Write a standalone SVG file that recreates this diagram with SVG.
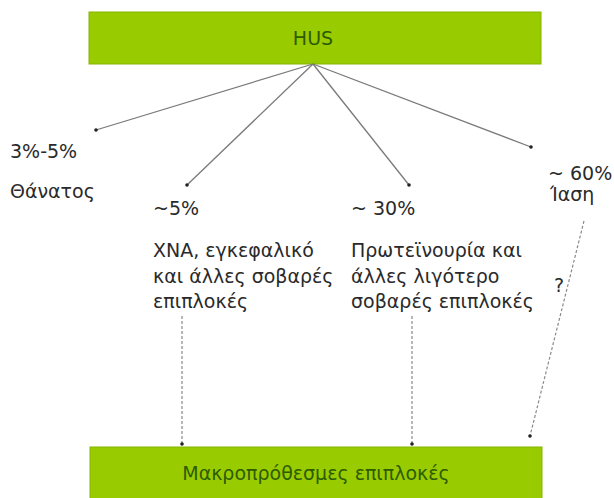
<svg xmlns="http://www.w3.org/2000/svg" width="614" height="498" viewBox="0 0 614 498">
<style>
.box{fill:#99cc00;stroke:#86b300;stroke-width:1}
.bt{font-family:"DejaVu Sans",sans-serif;font-size:19px;fill:#2e5c00;text-anchor:middle}
.t{font-family:"DejaVu Sans",sans-serif;font-size:19px;fill:#2a2a2a}
.ln{stroke:#7a7a7a;stroke-width:1.3;fill:none;marker-end:url(#dot)}
.dl{stroke:#8a8a8a;stroke-width:1.2;fill:none;stroke-dasharray:3 2;marker-end:url(#dot)}
</style>
<defs>
<marker id="dot" viewBox="0 0 4 4" refX="2" refY="2" markerWidth="4" markerHeight="4" markerUnits="userSpaceOnUse">
<circle cx="2" cy="2" r="1.8" fill="#222"/>
</marker>
</defs>
<rect width="614" height="498" fill="#ffffff"/>
<g id="hus">
<rect class="box" x="89" y="12" width="452" height="52"/>
<text class="bt" x="313" y="45">HUS</text>
</g>
<g id="long-term">
<rect class="box" x="90" y="447" width="452" height="56"/>
<text class="bt" x="316" y="480">Μακροπρόθεσμες επιπλοκές</text>
</g>
<g id="death">
<text class="t" x="10" y="158">3%-5%</text>
<text class="t" x="10" y="198">Θάνατος</text>
</g>
<g id="severe">
<text class="t" x="153" y="215">~5%</text>
<text class="t" x="153" y="257">ΧΝΑ, εγκεφαλικό</text>
<text class="t" x="153" y="283">και άλλες σοβαρές</text>
<text class="t" x="153" y="308">επιπλοκές</text>
</g>
<g id="mild">
<text class="t" x="351" y="215">~ 30%</text>
<text class="t" x="351" y="257">Πρωτεϊνουρία και</text>
<text class="t" x="351" y="283">άλλες λιγότερο</text>
<text class="t" x="351" y="308">σοβαρές επιπλοκές</text>
</g>
<g id="cure">
<text class="t" x="548" y="180">~ 60%</text>
<text class="t" x="550" y="201">Ίαση</text>
</g>
<g id="question">
<text class="t" x="554" y="292">?</text>
</g>
<g id="connectors">
<line class="ln" x1="313" y1="64" x2="96" y2="130"/>
<line class="ln" x1="313" y1="64" x2="187" y2="185"/>
<line class="ln" x1="313" y1="64" x2="409" y2="185"/>
<line class="ln" x1="313" y1="64" x2="531" y2="147"/>
<line class="dl" x1="182" y1="316" x2="182" y2="444"/>
<line class="dl" x1="412" y1="316" x2="412" y2="444"/>
<line class="dl" x1="584" y1="221" x2="530" y2="436"/>
</g>
</svg>
